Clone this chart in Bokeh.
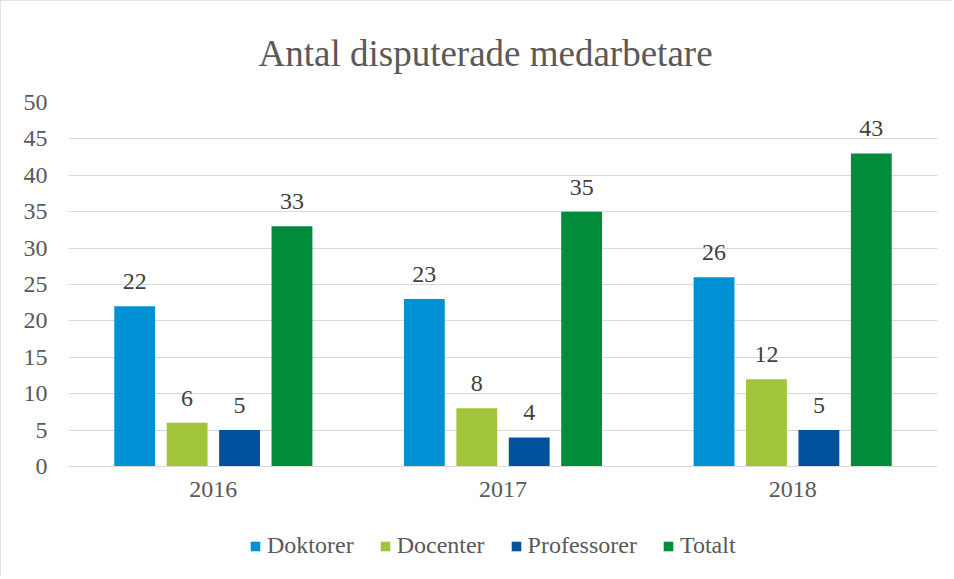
from bokeh.plotting import figure
from bokeh.models import (ColumnDataSource, FactorRange, Range1d, LabelSet, Legend,
                          LegendItem, FixedTicker, InlineStyleSheet)
from bokeh.core.properties import value
from bokeh.transform import dodge
from bokeh.embed import file_html
from bokeh.resources import INLINE

years = ["2016", "2017", "2018"]
series = ["Doktorer", "Docenter", "Professorer", "Totalt"]
doktorer = [22, 23, 26]
docenter = [6, 8, 12]
professorer = [5, 4, 5]
totalt = [33, 35, 43]
y_ticks = [0, 5, 10, 15, 20, 25, 30, 35, 40, 45, 50]
colors = ["#0090D4", "#A2C43A", "#00529C", "#008C3A"]
values = [doktorer, docenter, professorer, totalt]
offsets = [-0.2715, -0.0905, 0.0905, 0.2715]

FONT = "Liberation Serif, serif"
TXT = "#595959"

p = figure(width=951, height=576, x_range=FactorRange(*years), y_range=Range1d(-14.56, 50),
           output_backend="svg", toolbar_location=None,
           min_border_left=68, min_border_right=14, min_border_bottom=4, min_border_top=102)
p.stylesheets = [InlineStyleSheet(css=":host { outline: 1px solid #d9d9d9; outline-offset: -1px; }")]

p.title.text = "Antal disputerade medarbetare"
p.title.align = "left"
p.title.offset = 190
p.title.text_font = FONT
p.title.text_font_size = "37px"
p.title.text_font_style = "normal"
p.title.text_color = TXT
p.title.standoff = 58

items = []
for name, vals, col, off in zip(series, values, colors, offsets):
    src = ColumnDataSource(dict(x=years, y=vals, t=[str(v) for v in vals]))
    r = p.vbar(x=dodge("x", off, range=p.x_range), top="y", width=0.141, source=src,
               fill_color=col, line_color=None)
    items.append(LegendItem(label=name, renderers=[r]))
    lbl = LabelSet(x=dodge("x", off, range=p.x_range), y="y", text="t", source=src,
                   text_align="center", text_baseline="bottom", y_offset=17,
                   text_font=value(FONT), text_font_size=value("24px"), text_color="#404040")
    p.add_layout(lbl)

p.yaxis.ticker = FixedTicker(ticks=y_ticks)
p.yaxis.axis_line_color = None
p.yaxis.major_tick_line_color = None
p.yaxis.minor_tick_line_color = None
p.yaxis.major_label_text_font = FONT
p.yaxis.major_label_text_font_size = "24px"
p.yaxis.major_label_text_color = TXT
p.yaxis.major_label_standoff = 15

p.xaxis.fixed_location = 0
p.xaxis.axis_line_color = "#d9d9d9"
p.xaxis.axis_line_width = 1
p.xaxis.major_tick_line_color = None
p.xaxis.minor_tick_line_color = None
p.xaxis.major_label_text_font = FONT
p.xaxis.major_label_text_font_size = "24px"
p.xaxis.major_label_text_color = TXT
p.xaxis.major_label_standoff = 9

p.xgrid.grid_line_color = None
p.ygrid.grid_line_color = "#d9d9d9"
p.ygrid.grid_line_width = 1
p.outline_line_color = None

legend = Legend(items=items, orientation="horizontal", location=(181, 13),
                label_text_font=FONT, label_text_font_size="24px", label_text_color=TXT,
                glyph_width=12, glyph_height=12, spacing=25, label_standoff=6,
                border_line_color=None, background_fill_alpha=0, margin=0, padding=0)
p.add_layout(legend)

open("out.html", "w").write(file_html(p, INLINE))
